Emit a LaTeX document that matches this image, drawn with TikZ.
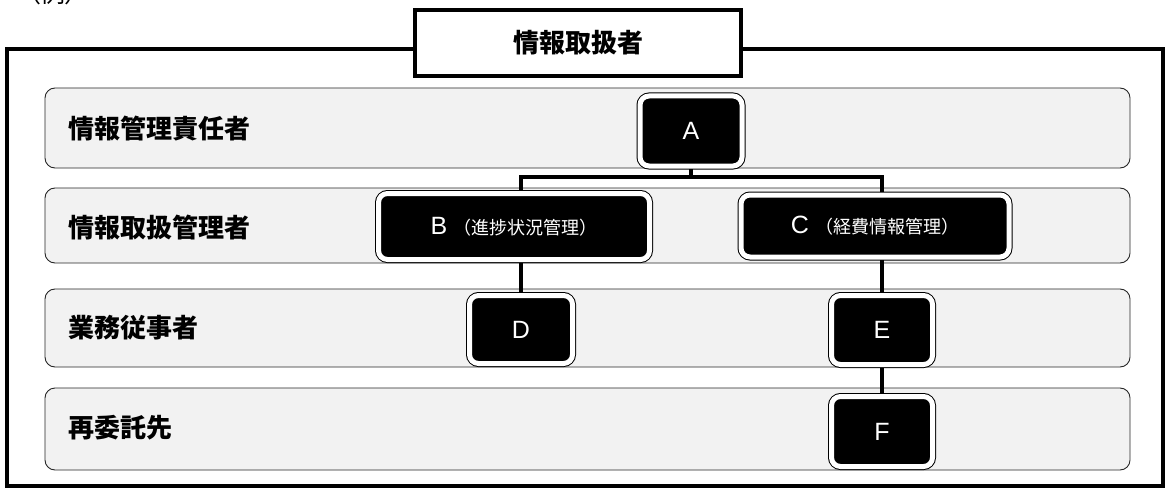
\documentclass[tikz,border=0pt]{standalone}
\usepackage{fontspec}
\setmainfont{Liberation Sans}
\newfontfamily\cjk{Noto Sans CJK JP}
\usetikzlibrary{backgrounds}
\begin{document}
\begin{tikzpicture}[x=1pt,y=-1pt,
  band/.style={draw=black!85, line width=0.9pt, rounded corners=10pt, fill=black!5},
  bandlabel/.style={anchor=west, inner sep=0pt, font=\cjk\bfseries\fontsize{26}{30}\selectfont},
  role/.style={draw=black, line width=1pt, double=white, double distance=5pt, fill=black,
    rounded corners=9pt, text=white, inner sep=0pt, font=\fontsize{25}{28}\selectfont},
  sub/.style={},
  link/.style={line width=4pt},
  frame/.style={line width=4pt}]
\useasboundingbox (0,0) rectangle (1167,492);
% partially visible heading
\node[anchor=base, inner sep=0pt, font=\cjk\fontsize{25}{28}\selectfont\addfontfeatures{RawFeature=+palt}] (ex) at (53,3) {（例）};
% nodes
\node[draw, frame, fill=white, minimum width=326pt, minimum height=66pt,
  font=\cjk\bfseries\fontsize{26}{30}\selectfont] (title) at (578,43) {情報取扱者};
\node[bandlabel] (L1) at (68,129) {情報管理責任者};
\node[bandlabel] (L2) at (68,228) {情報取扱管理者};
\node[bandlabel] (L3) at (68,328) {業務従事者};
\node[bandlabel] (L4) at (68,428) {再委託先};
\node[role, minimum width=102pt, minimum height=70pt] (A) at (691,131) {A};
\node[role, minimum width=271pt, minimum height=66pt] (B) at (514,226.5)
  {B\hspace{6pt}{\cjk\fontsize{18}{22}\selectfont （進捗状況管理）}};
\node[role, minimum width=268pt, minimum height=62pt] (C) at (875,226)
  {C\hspace{6pt}{\cjk\fontsize{18}{22}\selectfont （経費情報管理）}};
\node[role, minimum width=103pt, minimum height=68pt] (D) at (521,329.5) {D};
\node[role, minimum width=101pt, minimum height=69pt] (E) at (882,330) {E};
\node[role, minimum width=101pt, minimum height=70pt] (F) at (882,431.5) {F};
\coordinate (bus) at (691,177);
\begin{scope}[on background layer]
  \draw[frame] (7,49) rectangle (1163,486);
  \path[band] (45,88) rectangle (1130,168);
  \path[band] (45,188) rectangle (1130,263);
  \path[band] (45,289) rectangle (1130,367);
  \path[band] (45,388) rectangle (1130,470);
  \draw[link] (A.south) -- (bus) -| ([xshift=7pt]B.north);
  \draw[link] (bus) -| ([xshift=7pt]C.north);
  \draw[link] ([xshift=7pt]B.south) -- (D.north);
  \draw[link] ([xshift=7pt]C.south) -- (E.north);
  \draw[link] (E.south) -- (F.north);
\end{scope}
\end{tikzpicture}
\end{document}
